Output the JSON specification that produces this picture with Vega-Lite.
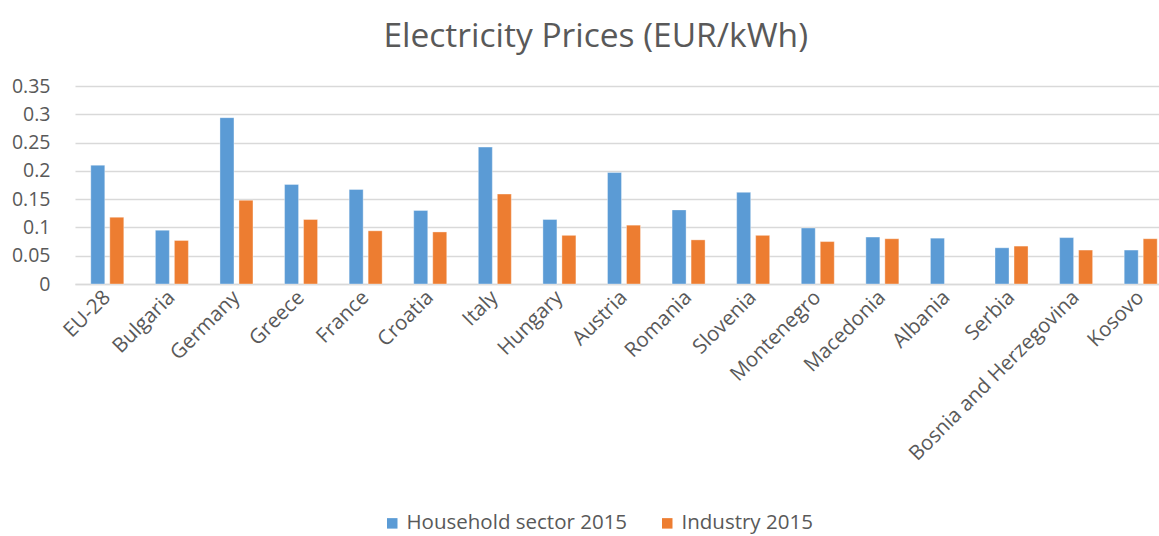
{
  "$schema": "https://vega.github.io/schema/vega-lite/v6.json",
  "width": 1098,
  "height": 198,
  "autosize": {"type": "none"},
  "padding": {"left": 75, "top": 86, "right": -14, "bottom": 252},
  "background": "white",
  "title": {
    "text": "Electricity Prices (EUR/kWh)",
    "font": "Open Sans",
    "fontSize": 33.5,
    "fontWeight": "normal",
    "color": "#595959",
    "anchor": "start",
    "dx": 372,
    "offset": 22
  },
  "data": {
    "values": [
      {"country": "EU-28", "series": "Household sector 2015", "price": 0.210},
      {"country": "EU-28", "series": "Industry 2015", "price": 0.118},
      {"country": "Bulgaria", "series": "Household sector 2015", "price": 0.095},
      {"country": "Bulgaria", "series": "Industry 2015", "price": 0.077},
      {"country": "Germany", "series": "Household sector 2015", "price": 0.294},
      {"country": "Germany", "series": "Industry 2015", "price": 0.148},
      {"country": "Greece", "series": "Household sector 2015", "price": 0.176},
      {"country": "Greece", "series": "Industry 2015", "price": 0.114},
      {"country": "France", "series": "Household sector 2015", "price": 0.167},
      {"country": "France", "series": "Industry 2015", "price": 0.094},
      {"country": "Croatia", "series": "Household sector 2015", "price": 0.130},
      {"country": "Croatia", "series": "Industry 2015", "price": 0.092},
      {"country": "Italy", "series": "Household sector 2015", "price": 0.242},
      {"country": "Italy", "series": "Industry 2015", "price": 0.159},
      {"country": "Hungary", "series": "Household sector 2015", "price": 0.114},
      {"country": "Hungary", "series": "Industry 2015", "price": 0.086},
      {"country": "Austria", "series": "Household sector 2015", "price": 0.197},
      {"country": "Austria", "series": "Industry 2015", "price": 0.104},
      {"country": "Romania", "series": "Household sector 2015", "price": 0.131},
      {"country": "Romania", "series": "Industry 2015", "price": 0.078},
      {"country": "Slovenia", "series": "Household sector 2015", "price": 0.162},
      {"country": "Slovenia", "series": "Industry 2015", "price": 0.086},
      {"country": "Montenegro", "series": "Household sector 2015", "price": 0.099},
      {"country": "Montenegro", "series": "Industry 2015", "price": 0.075},
      {"country": "Macedonia", "series": "Household sector 2015", "price": 0.083},
      {"country": "Macedonia", "series": "Industry 2015", "price": 0.080},
      {"country": "Albania", "series": "Household sector 2015", "price": 0.081},
      {"country": "Serbia", "series": "Household sector 2015", "price": 0.064},
      {"country": "Serbia", "series": "Industry 2015", "price": 0.067},
      {"country": "Bosnia and Herzegovina", "series": "Household sector 2015", "price": 0.082},
      {"country": "Bosnia and Herzegovina", "series": "Industry 2015", "price": 0.060},
      {"country": "Kosovo", "series": "Household sector 2015", "price": 0.060},
      {"country": "Kosovo", "series": "Industry 2015", "price": 0.080}
    ]
  },
  "mark": {"type": "bar", "stroke": "white", "strokeWidth": 0.6, "strokeOpacity": 0.6},
  "encoding": {
    "x": {
      "field": "country",
      "type": "nominal",
      "sort": null,
      "title": null,
      "scale": {"paddingInner": 0.489, "paddingOuter": 0.2445},
      "axis": {
        "labelAngle": -45,
        "labelAlign": "right",
        "labelBaseline": "middle",
        "labelFont": "Open Sans",
        "labelFontSize": 20.5,
        "labelColor": "#595959",
        "labelPadding": 10,
        "labelLimit": 0,
        "labelOverlap": false,
        "ticks": false,
        "domain": true,
        "domainColor": "#d9d9d9",
        "domainWidth": 1.5,
        "grid": false
      }
    },
    "xOffset": {
      "field": "series",
      "type": "nominal",
      "scale": {"domain": ["Household sector 2015", "Industry 2015"], "paddingInner": 0.263}
    },
    "y": {
      "field": "price",
      "type": "quantitative",
      "title": null,
      "scale": {"domain": [0, 0.35], "nice": false},
      "axis": {
        "values": [0, 0.05, 0.1, 0.15, 0.2, 0.25, 0.3, 0.35],
        "format": "~g",
        "labelFont": "Open Sans",
        "labelFontSize": 19.5,
        "labelColor": "#595959",
        "labelPadding": 25,
        "labelAlign": "right",
        "domain": false,
        "ticks": false,
        "grid": true,
        "gridColor": "#d9d9d9",
        "gridWidth": 1.5
      }
    },
    "color": {
      "field": "series",
      "type": "nominal",
      "title": null,
      "scale": {"domain": ["Household sector 2015", "Industry 2015"], "range": ["#5B9BD5", "#ED7D31"]},
      "legend": {
        "orient": "none",
        "direction": "horizontal",
        "legendX": 307,
        "legendY": 427,
        "symbolType": "square",
        "symbolSize": 110,
        "symbolStrokeWidth": 0,
        "labelFont": "Open Sans",
        "labelFontSize": 20.5,
        "labelColor": "#595959",
        "labelLimit": 0,
        "columnPadding": 29,
        "labelOffset": 4
      }
    }
  },
  "config": {"view": {"stroke": null}}
}
